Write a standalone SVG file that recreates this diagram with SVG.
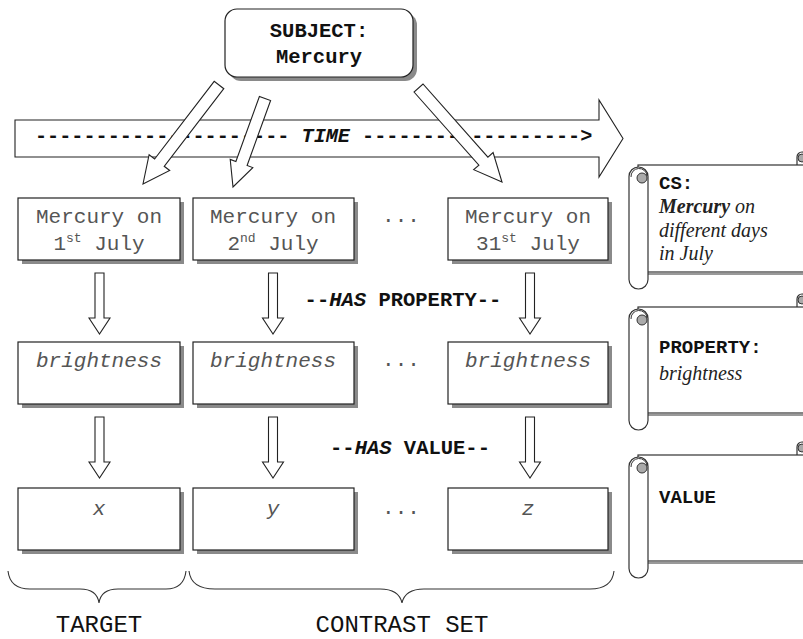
<svg xmlns="http://www.w3.org/2000/svg" width="803" height="639" viewBox="0 0 803 639">
<style>
.box{fill:#fff;stroke:#222;stroke-width:1.2}
.shadow{fill:#8a8a8a}
.arrow{fill:#fff;stroke:#222;stroke-width:1.1;stroke-linejoin:miter}
.lbl{font-family:"Liberation Mono","Courier New",monospace;font-size:21px;fill:#555;text-anchor:middle}
.it{font-style:italic}
.bold{font-family:"Liberation Mono","Courier New",monospace;font-weight:bold;fill:#111}
.cap{font-family:"Liberation Mono","Courier New",monospace;font-size:24px;fill:#111;text-anchor:middle}
.serif{font-family:"Liberation Serif","Times New Roman",serif;font-size:20px;font-style:italic;fill:#222}
.brace{fill:none;stroke:#333;stroke-width:1.1}
.scroll{fill:#fff;stroke:#333;stroke-width:1.2}
.curl{fill:#aaa;stroke:#333;stroke-width:1}
</style>
<rect width="803" height="639" fill="#fff"/>

<!-- Time arrow -->
<g id="time">
<polygon class="arrow" points="15,120 599,120 599,100 623,138.5 599,177 599,157 15,157"/>
<text class="bold" x="35" y="142" font-size="20.2" xml:space="preserve">--------------------- <tspan font-style="italic">TIME</tspan> ------------------&gt;</text>
</g>

<!-- Connectors -->
<g id="connectors">
<polygon class="arrow" points="223.8,88.7 164.2,166.3 169.7,170.5 143,184 149.1,154.7 154.6,159 214.2,81.3"/>
<polygon class="arrow" points="270.6,100.5 247.1,165.5 252.8,167.6 233,187 230.2,159.4 235.9,161.5 259.4,96.5"/>
<polygon class="arrow" points="414,92 478.9,165.1 473.7,169.7 502,182 493.1,152.5 487.9,157.1 423,84"/>
<polygon class="arrow" points="95,273 104,273 104,318 110,318 99.5,334 89,318 95,318"/>
<polygon class="arrow" points="268.5,273 277.5,273 277.5,318 283.5,318 273,334 262.5,318 268.5,318"/>
<polygon class="arrow" points="525.5,273 534.5,273 534.5,318 540.5,318 530,334 519.5,318 525.5,318"/>
<polygon class="arrow" points="95,417 104,417 104,462 110,462 99.5,478 89,462 95,462"/>
<polygon class="arrow" points="268.5,417 277.5,417 277.5,462 283.5,462 273,478 262.5,462 268.5,462"/>
<polygon class="arrow" points="525.5,417 534.5,417 534.5,462 540.5,462 530,478 519.5,462 525.5,462"/>
</g>

<!-- Subject -->
<g id="subject">
<rect class="shadow" x="229" y="13" width="188" height="68" rx="12"/>
<rect class="box" x="225" y="9" width="188" height="68" rx="12"/>
<text class="bold" x="319" y="37" font-size="20.5" text-anchor="middle">SUBJECT:</text>
<text class="bold" x="319" y="63" font-size="20.5" text-anchor="middle">Mercury</text>
</g>

<!-- Row 1 -->
<g id="mercury1">
<rect class="shadow" x="22" y="202" width="162" height="62"/>
<rect class="box" x="18" y="198" width="162" height="62"/>
<text class="lbl" x="99" y="223">Mercury on</text>
<text class="lbl" x="99" y="250">1<tspan font-size="13" dy="-8">st</tspan><tspan dy="8"> July</tspan></text>
</g>
<g id="mercury2">
<rect class="shadow" x="197" y="202" width="161" height="62"/>
<rect class="box" x="193" y="198" width="161" height="62"/>
<text class="lbl" x="273" y="223">Mercury on</text>
<text class="lbl" x="273" y="250">2<tspan font-size="13" dy="-8">nd</tspan><tspan dy="8"> July</tspan></text>
</g>
<g id="mercury31">
<rect class="shadow" x="452" y="202" width="160" height="62"/>
<rect class="box" x="448" y="198" width="160" height="62"/>
<text class="lbl" x="528" y="223">Mercury on</text>
<text class="lbl" x="528" y="250">31<tspan font-size="13" dy="-8">st</tspan><tspan dy="8"> July</tspan></text>
</g>
<text class="lbl" x="401" y="222">...</text>

<text class="bold" x="403" y="306" font-size="20.5" text-anchor="middle">--<tspan font-style="italic">HAS</tspan> PROPERTY--</text>

<!-- Row 2 -->
<g id="bright1">
<rect class="shadow" x="22" y="346" width="162" height="62"/>
<rect class="box" x="18" y="342" width="162" height="62"/>
<text class="lbl it" x="99" y="367">brightness</text>
</g>
<g id="bright2">
<rect class="shadow" x="197" y="346" width="161" height="62"/>
<rect class="box" x="193" y="342" width="161" height="62"/>
<text class="lbl it" x="273" y="367">brightness</text>
</g>
<g id="bright31">
<rect class="shadow" x="452" y="346" width="160" height="62"/>
<rect class="box" x="448" y="342" width="160" height="62"/>
<text class="lbl it" x="528" y="367">brightness</text>
</g>
<text class="lbl" x="401" y="366">...</text>

<text class="bold" x="410" y="454" font-size="20.5" text-anchor="middle">--<tspan font-style="italic">HAS</tspan> VALUE--</text>

<!-- Row 3 -->
<g id="valx">
<rect class="shadow" x="22" y="492" width="162" height="62"/>
<rect class="box" x="18" y="488" width="162" height="62"/>
<text class="lbl it" x="99" y="515">x</text>
</g>
<g id="valy">
<rect class="shadow" x="197" y="492" width="161" height="62"/>
<rect class="box" x="193" y="488" width="161" height="62"/>
<text class="lbl it" x="273" y="515">y</text>
</g>
<g id="valz">
<rect class="shadow" x="452" y="492" width="160" height="62"/>
<rect class="box" x="448" y="488" width="160" height="62"/>
<text class="lbl it" x="528" y="515">z</text>
</g>
<text class="lbl" x="401" y="514">...</text>

<!-- Braces -->
<g id="target">
<path class="brace" d="M8,571 Q10,589 30,589 L80,589 Q97,589 99,603 Q101,589 118,589 L166,589 Q184,589 186,571"/>
<text class="cap" x="99" y="632">TARGET</text>
</g>
<g id="contrast">
<path class="brace" d="M189,571 Q191,589 215,589 L380,589 Q399,589 402,603 Q405,589 424,589 L590,589 Q612,589 614,571"/>
<text class="cap" x="402" y="632">CONTRAST SET</text>
</g>

<!-- Scrolls -->
<g id="scroll-cs">
<path d="M797,165 L797,157 A5,5 0 0 1 807,157" class="scroll"/>
<circle cx="802" cy="158" r="4" class="curl"/>
<line x1="648" y1="274" x2="803" y2="274" stroke="#999" stroke-width="2"/>
<rect class="scroll" x="638" y="165" width="180" height="107"/>
<rect class="scroll" x="629" y="167" width="19" height="122" rx="9.5"/>
<path d="M631,177 A8,8 0 0 1 647,176" fill="none" stroke="#333"/>
<circle cx="642" cy="178" r="5" class="curl"/>
<text class="bold" x="659" y="189" font-size="19">CS:</text>
<text class="serif" x="659" y="213"><tspan font-weight="bold">Mercury</tspan> on</text>
<text class="serif" x="659" y="237">different days</text>
<text class="serif" x="659" y="260">in July</text>
</g>
<g id="scroll-property">
<path d="M797,307 L797,299 A5,5 0 0 1 807,299" class="scroll"/>
<circle cx="802" cy="300" r="4" class="curl"/>
<line x1="648" y1="415" x2="803" y2="415" stroke="#999" stroke-width="2"/>
<rect class="scroll" x="638" y="307" width="180" height="106"/>
<rect class="scroll" x="629" y="309" width="19" height="121" rx="9.5"/>
<path d="M631,319 A8,8 0 0 1 647,318" fill="none" stroke="#333"/>
<circle cx="642" cy="320" r="5" class="curl"/>
<text class="bold" x="659" y="353" font-size="19">PROPERTY:</text>
<text class="serif" x="659" y="380">brightness</text>
</g>
<g id="scroll-value">
<path d="M797,455 L797,447 A5,5 0 0 1 807,447" class="scroll"/>
<circle cx="802" cy="448" r="4" class="curl"/>
<line x1="648" y1="563" x2="803" y2="563" stroke="#999" stroke-width="2"/>
<rect class="scroll" x="638" y="455" width="180" height="106"/>
<rect class="scroll" x="629" y="457" width="19" height="121" rx="9.5"/>
<path d="M631,467 A8,8 0 0 1 647,466" fill="none" stroke="#333"/>
<circle cx="642" cy="468" r="5" class="curl"/>
<text class="bold" x="659" y="503" font-size="19">VALUE</text>
</g>
</svg>
